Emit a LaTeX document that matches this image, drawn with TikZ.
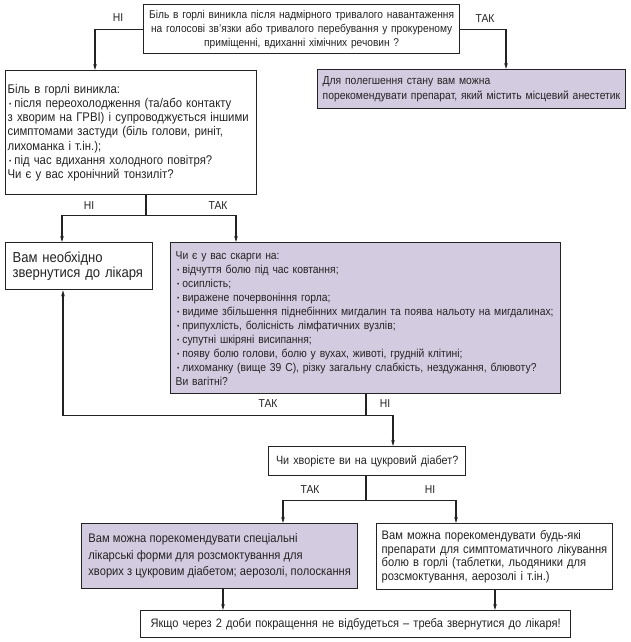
\documentclass[tikz,border=0pt]{standalone}
\usepackage{fontspec}
\setmainfont[FakeStretch=0.9]{Liberation Sans}
\usetikzlibrary{arrows.meta,calc}
\definecolor{lav}{RGB}{211,203,224}
\definecolor{ink}{RGB}{35,35,35}
\newcommand\bul{\hspace{1.5pt}\raisebox{0.6pt}{\fontsize{7}{7}\selectfont\textbullet}\hspace{3pt}}
\newcommand\fs[2]{\fontsize{#1}{#2}\selectfont}
\begin{document}
\begin{tikzpicture}[x=1pt,y=-1pt,
  box/.style={draw=ink,line width=1.3pt,inner xsep=5pt,inner ysep=0pt,anchor=north west,align=left,text=ink},
  lbox/.style={box,fill=lav},
  lbl/.style={text=ink,font=\fs{11.5}{12},inner sep=0pt},
  conn/.style={draw=ink,line width=1.2pt},
  arr/.style={conn,-{Stealth[length=6pt,width=3.6pt]}}
]
\useasboundingbox (0,0) rectangle (630,642);

\node[box,align=center,inner xsep=2pt,text width=312,minimum height=49,font=\fs{11.3}{14}] (q1) at (143,4)
 {Біль в горлі виникла після надмірного тривалого навантаження\\
  на голосові зв’язки або тривалого перебування у прокуреному\\
  приміщенні, вдиханні хімічних речовин ?};

\node[box,inner xsep=2pt,text width=247,minimum height=124,font=\fs{12.6}{14.2}] (q2) at (5,70)
 {Біль в горлі виникла:\\
  \bul після переохолодження (та/або контакту\\
  з хворим на ГРВІ) і супроводжується іншими\\
  симптомами застуди (біль голови, риніт,\\
  лихоманка і т.ін.);\\
  \bul під час вдихання холодного повітря?\\
  Чи є у вас хронічний тонзиліт?};

\node[lbox,text width=298,minimum height=39,font=\fs{11.5}{15}] (ans1) at (317,69)
 {Для полегшення стану вам можна\\
  порекомендувати препарат, який містить місцевий анестетик};

\node[box,inner xsep=7pt,text width=133,minimum height=47,font=\fs{14.5}{15.5}] (doc) at (5,242)
 {Вам необхідно\\ звернутися до лікаря};

\node[lbox,text width=380,minimum height=151,font=\fs{11.5}{14}] (q3) at (170,242)
 {Чи є у вас скарги на:\\
  \bul відчуття болю під час ковтання;\\
  \bul осиплість;\\
  \bul виражене почервоніння горла;\\
  \bul видиме збільшення піднебінних мигдалин та поява нальоту на мигдалинах;\\
  \bul припухлість, болісність лімфатичних вузлів;\\
  \bul супутні шкіряні висипання;\\
  \bul появу болю голови, болю у вухах, животі, грудній клітині;\\
  \bul лихоманку (вище 39 С), різку загальну слабкість, нездужання, блювоту?\\
  Ви вагітні?};

\node[box,align=center,text width=187,minimum height=29,font=\fs{12}{14}] (q4) at (268,446)
 {Чи хворієте ви на цукровий діабет?};

\node[lbox,inner xsep=2pt,minimum width=276,minimum height=65,font=\fs{12.4}{16.5}] (ans2) at (81,523)
 {Вам можна порекомендувати спеціальні\\
  лікарські форми для розсмоктування для\\
  хворих з цукровим діабетом; аерозолі, полоскання};

\node[box,text width=226,minimum height=66,font=\fs{12.4}{13.8}] (ans3) at (376,523)
 {Вам можна порекомендувати будь-які\\
  препарати для симптоматичного лікування\\
  болю в горлі (таблетки, льодяники для\\
  розсмоктування, аерозолі і т.ін.)};

\node[box,align=center,text width=420,minimum height=27,font=\fs{12.3}{14}] (fin) at (140,610)
 {Якщо через 2 доби покращення не відбудеться – треба звернутися до лікаря!};

% labels
\node[lbl] (l1) at (118,18) {НІ};
\node[lbl] (l2) at (485,19) {ТАК};
\node[lbl] (l3) at (89,206) {НІ};
\node[lbl] (l4) at (218,206) {ТАК};
\node[lbl] (l5) at (268,404) {ТАК};
\node[lbl] (l6) at (385,404) {НІ};
\node[lbl] (l7) at (310,490) {ТАК};
\node[lbl] (l8) at (430,490) {НІ};

% anchor points on boxes
\coordinate (p1) at ($(q2.north west)+(90,0)$);
\coordinate (p2) at ($(ans1.north west)+(189,0)$);
\coordinate (p3) at ($(q2.south west)+(141,0)$);
\coordinate (j1) at ($(p3)+(0,20)$);
\coordinate (p4) at ($(doc.north west)+(57,0)$);
\coordinate (p5) at ($(q3.north west)+(66,0)$);
\coordinate (p6) at ($(q3.south west)+(196,0)$);
\coordinate (j2) at ($(p6)+(0,21)$);
\coordinate (p7) at ($(doc.south west)+(58,0)$);
\coordinate (p8) at ($(q4.north west)+(125,0)$);
\coordinate (p9) at ($(q4.south west)+(98,0)$);
\coordinate (j3) at ($(p9)+(0,24)$);
\coordinate (p10) at ($(ans2.north west)+(202,0)$);
\coordinate (p11) at ($(ans3.north west)+(80,0)$);
\coordinate (p12) at ($(ans2.south west)+(142,0)$);
\coordinate (p13) at ($(ans3.south west)+(119,0)$);

% connectors
\draw[arr] (q1.west) -| (p1);
\draw[arr] (q1.east) -| (p2);

\draw[conn] (p3) -- (j1);
\draw[arr] (j1) -| (p4);
\draw[arr] (j1) -| (p5);

\draw[conn] (p6) -- (j2);
\draw[arr] (j2) -| (p7);
\draw[arr] (j2) -| (p8);

\draw[conn] (p9) -- (j3);
\draw[arr] (j3) -| (p10);
\draw[arr] (j3) -| (p11);

\draw[arr] (p12) -- (p12 |- fin.north);
\draw[arr] (p13) -- (p13 |- fin.north);
\end{tikzpicture}
\end{document}
